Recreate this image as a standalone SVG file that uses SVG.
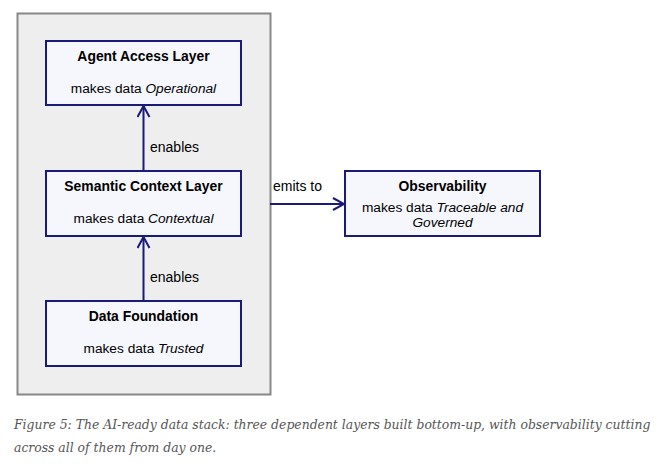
<svg xmlns="http://www.w3.org/2000/svg" width="671" height="464" viewBox="0 0 671 464">
<style>
.node{fill:#f6f7fd;stroke:#1a1a78;stroke-width:2}
.t{font-family:"Liberation Sans",Arial,sans-serif;font-size:13.9px;font-weight:bold;fill:#000;text-anchor:middle}
.s{font-family:"Liberation Sans",Arial,sans-serif;font-size:13.7px;fill:#000;text-anchor:middle}
.l{font-family:"Liberation Sans",Arial,sans-serif;font-size:14px;fill:#000}
.e{stroke:#1a1a78;stroke-width:2;fill:none}
.cap{font-family:"DejaVu Serif","Liberation Serif",serif;font-style:italic;font-size:12.4px;fill:#555}
</style>
<defs>
<marker id="arr" markerWidth="14" markerHeight="14" refX="12" refY="7" orient="auto" markerUnits="userSpaceOnUse">
<path d="M1,1 L12,7 L1,13" fill="none" stroke="#1a1a78" stroke-width="2"/>
</marker>
</defs>
<rect width="671" height="464" fill="#fff"/>
<g id="cluster">
<rect x="17.5" y="13.5" width="253" height="381" fill="#eeeeee" stroke="#888" stroke-width="2"/>
</g>
<g id="connectors">
<line class="e" x1="143.5" y1="171" x2="143.5" y2="106" marker-end="url(#arr)"/>
<text class="l" x="150" y="152">enables</text>
<line class="e" x1="143.5" y1="301" x2="143.5" y2="237" marker-end="url(#arr)"/>
<text class="l" x="150" y="282">enables</text>
<line class="e" x1="270" y1="204" x2="344" y2="204" marker-end="url(#arr)"/>
<text class="l" x="273" y="191">emits to</text>
</g>
<g id="agent">
<rect class="node" x="46" y="41" width="195" height="64"/>
<text class="t" x="143.5" y="61">Agent Access Layer</text>
<text class="s" x="143.5" y="93">makes data <tspan font-style="italic">Operational</tspan></text>
</g>
<g id="semantic">
<rect class="node" x="46" y="171" width="195" height="65"/>
<text class="t" x="143.5" y="191">Semantic Context Layer</text>
<text class="s" x="143.5" y="223">makes data <tspan font-style="italic">Contextual</tspan></text>
</g>
<g id="foundation">
<rect class="node" x="46" y="301" width="195" height="65"/>
<text class="t" x="143.5" y="321">Data Foundation</text>
<text class="s" x="143.5" y="353">makes data <tspan font-style="italic">Trusted</tspan></text>
</g>
<g id="observability">
<rect class="node" x="345" y="171" width="195" height="65"/>
<text class="t" x="442.5" y="191">Observability</text>
<text class="s" x="442.5" y="212">makes data <tspan font-style="italic">Traceable and</tspan></text>
<text class="s" x="442.5" y="227" font-style="italic">Governed</text>
</g>
<g id="caption">
<text class="cap" x="14" y="429">Figure 5: The AI-ready data stack: three dependent layers built bottom-up, with observability cutting</text>
<text class="cap" x="14" y="452">across all of them from day one.</text>
</g>
</svg>
